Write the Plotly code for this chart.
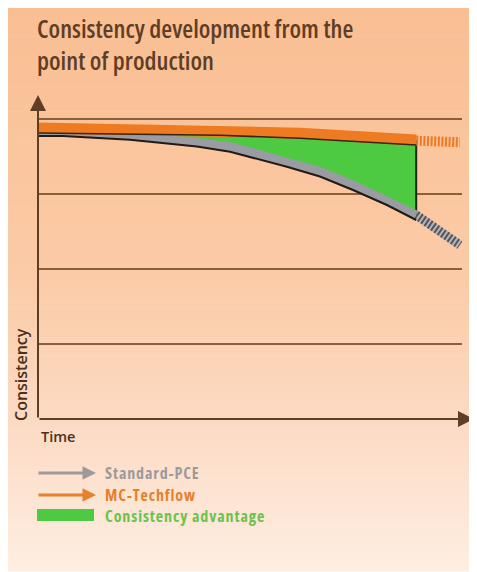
import plotly.graph_objects as go

W, H = 477, 572
OFF = 8  # browser body margin
FW, FH = W - OFF, H - OFF

# ---------------- data ----------------
title_lines = ["Consistency development from the", "point of production"]
x_label = "Time"
y_label = "Consistency"
series_names = ["Standard-PCE", "MC-Techflow", "Consistency advantage"]

# Standard-PCE (grey) consistency over time
pce_time = [0, 5.9, 21.7, 37.5, 45.3, 50.7, 58.7, 66.5, 74.3, 82.3, 89.2]
pce_values = [3.84, 3.84, 3.79, 3.70, 3.63, 3.55, 3.43, 3.30, 3.12, 2.92, 2.72]
pce_trend_time = [89.2, 99.5]
pce_trend_values = [2.72, 2.32]

# MC-Techflow (orange) consistency over time
mc_time = [0, 42.9, 61.8, 89.2]
mc_values = [3.88, 3.85, 3.81, 3.72]
mc_trend_time = [89.2, 99.5]
mc_trend_values = [3.71, 3.69]

grid_values = [1, 2, 3, 4]

# ---------------- styles ----------------
FONT = "Open Sans"
BROWN = "#5E3E25"
GRID = "#8C5E3A"
ORANGE = "#EE7B22"
GREY = "#9A9CA4"
GREEN = "#4DC942"

Y_TOP_PX, Y_BOT_PX = 95, 419
PX_PER_UNIT = 75.0
Y_MAX = (Y_BOT_PX - Y_TOP_PX) / PX_PER_UNIT
SHIFT = 5 / PX_PER_UNIT  # 5 px shift for edge lines
X0_PX, X1_PX = 38, 462


def px(p):
    return (p - OFF) / FW


def py(p):
    return 1 - (p - OFF) / FH


def cond(t, extra=""):
    return '<span style="font-stretch:condensed;%s">%s</span>' % (extra, t)


fig = go.Figure()

fig.add_trace(go.Scatter(
    x=mc_time + pce_time[::-1], y=mc_values + pce_values[::-1],
    fill="toself", fillcolor=GREEN, mode="lines", line=dict(width=0),
    hoverinfo="skip", showlegend=False))
fig.add_trace(go.Scatter(
    x=[mc_time[-1], pce_time[-1]], y=[mc_values[-1], pce_values[-1]],
    mode="lines", line=dict(color="#1E2A12", width=2), showlegend=False, hoverinfo="skip"))

fig.add_trace(go.Scatter(x=mc_trend_time, y=mc_trend_values, mode="lines",
                         line=dict(color=ORANGE, width=10, dash="2px,1.6px"),
                         showlegend=False, hoverinfo="skip"))
fig.add_trace(go.Scatter(x=pce_trend_time, y=pce_trend_values, mode="lines",
                         line=dict(color="#B9B5B5", width=9),
                         showlegend=False, hoverinfo="skip"))
fig.add_trace(go.Scatter(x=pce_trend_time, y=pce_trend_values, mode="lines",
                         line=dict(color="#55545A", width=9, dash="2px,2px"),
                         showlegend=False, hoverinfo="skip"))

fig.add_trace(go.Scatter(x=pce_time, y=pce_values, mode="lines", name=series_names[0],
                         line=dict(color=GREY, width=9), showlegend=False))
fig.add_trace(go.Scatter(x=mc_time, y=mc_values, mode="lines", name=series_names[1],
                         line=dict(color=ORANGE, width=11), showlegend=False))

fig.add_trace(go.Scatter(x=pce_time, y=pce_values, mode="lines", yaxis="y2",
                         line=dict(color="#231A14", width=2),
                         showlegend=False, hoverinfo="skip"))
fig.add_trace(go.Scatter(x=mc_time, y=mc_values, mode="lines", yaxis="y2",
                         line=dict(color="#3A2410", width=1.6),
                         showlegend=False, hoverinfo="skip"))

# ---------------- background gradient ----------------
stops = [(5, (250, 190, 146)), (280, (251, 203, 167)), (420, (252, 218, 195)), (571, (254, 238, 226))]


def col_at(yp):
    for (a, ca), (b, cb) in zip(stops[:-1], stops[1:]):
        if a <= yp <= b:
            f = (yp - a) / (b - a)
            return tuple(int(round(ca[i] + (cb[i] - ca[i]) * f)) for i in range(3))
    return stops[-1][1]


shapes = []
n = 60
top, bot = OFF, 571
for i in range(n):
    y0 = top + (bot - top) * i / n
    y1 = top + (bot - top) * (i + 1) / n
    c = col_at((y0 + y1) / 2)
    shapes.append(dict(type="rect", xref="paper", yref="paper", x0=0, x1=1,
                       y0=py(y1 + 0.6), y1=py(y0), fillcolor="rgb(%d,%d,%d)" % c,
                       line=dict(width=0), layer="below"))

shapes.append(dict(type="rect", xref="paper", yref="paper", x0=px(37), x1=px(94),
                   y0=py(521), y1=py(509), fillcolor=GREEN, line=dict(width=0), layer="above"))

annotations = []
for i, t in enumerate(title_lines):
    annotations.append(dict(text=cond(t), xref="paper", yref="paper", x=px(35), y=py(28 + 32 * i),
                            xanchor="left", yanchor="middle", showarrow=False,
                            font=dict(family=FONT, size=25, color=BROWN, weight=600)))
annotations.append(dict(x=0, y=Y_MAX, ax=0, ay=0, xref="x", yref="y", axref="x", ayref="y",
                        showarrow=True, arrowhead=2, arrowsize=1.6, arrowwidth=2,
                        arrowcolor=BROWN, text=""))
annotations.append(dict(x=(474 - X0_PX) / ((X1_PX - X0_PX) / 100), y=0, ax=0, ay=0,
                        xref="x", yref="y", axref="x", ayref="y",
                        showarrow=True, arrowhead=2, arrowsize=1.6, arrowwidth=2,
                        arrowcolor=BROWN, text=""))
annotations.append(dict(text=y_label, xref="paper", yref="paper", x=px(21), y=py(375),
                        textangle=-90, showarrow=False, xanchor="center", yanchor="middle",
                        font=dict(family=FONT, size=16, color="#4A3020", weight=600)))
annotations.append(dict(text=x_label, xref="paper", yref="paper", x=px(39), y=py(436),
                        showarrow=False, xanchor="left", yanchor="middle",
                        font=dict(family=FONT, size=14.5, color="#4A3020", weight=600)))
leg_cols = ["#9C9A9A", "#E5802D", "#6CC24C"]
leg_y = [473, 495, 516]
for k in range(2):
    annotations.append(dict(x=px(96), y=py(leg_y[k]), xref="paper", yref="paper",
                            ax=-59, ay=0, showarrow=True, arrowhead=2, arrowsize=0.9,
                            arrowwidth=3, arrowcolor=leg_cols[k], text=""))
for k in range(3):
    annotations.append(dict(text=cond(series_names[k], "letter-spacing:0.9px"),
                            xref="paper", yref="paper",
                            x=px(103), y=py(leg_y[k]), xanchor="left", yanchor="middle",
                            showarrow=False,
                            font=dict(family=FONT, size=16, color=leg_cols[k], weight=700)))

ydom = [py(Y_BOT_PX), py(Y_TOP_PX)]
fig.update_layout(
    width=FW, height=FH, margin=dict(l=0, r=0, t=0, b=0),
    paper_bgcolor="white", plot_bgcolor="rgba(0,0,0,0)",
    showlegend=False, shapes=shapes, annotations=annotations,
    xaxis=dict(domain=[px(X0_PX), px(X1_PX)], range=[0, 100], showgrid=False, zeroline=False,
               showline=False, showticklabels=False, ticks=""),
    yaxis=dict(domain=ydom, range=[0, Y_MAX], tickvals=grid_values, showgrid=True,
               gridcolor=GRID, gridwidth=2, zeroline=False, showline=False,
               showticklabels=False, ticks=""),
    yaxis2=dict(overlaying="y", range=[SHIFT, Y_MAX + SHIFT], visible=False),
    yaxis3=dict(overlaying="y", range=[0, Y_MAX], tickvals=[mc_values[0]], ticks="outside",
                ticklen=21, tickwidth=2, tickcolor=BROWN, showticklabels=False,
                showgrid=False, zeroline=False, showline=False),
)
fig.write_html("out.html")
